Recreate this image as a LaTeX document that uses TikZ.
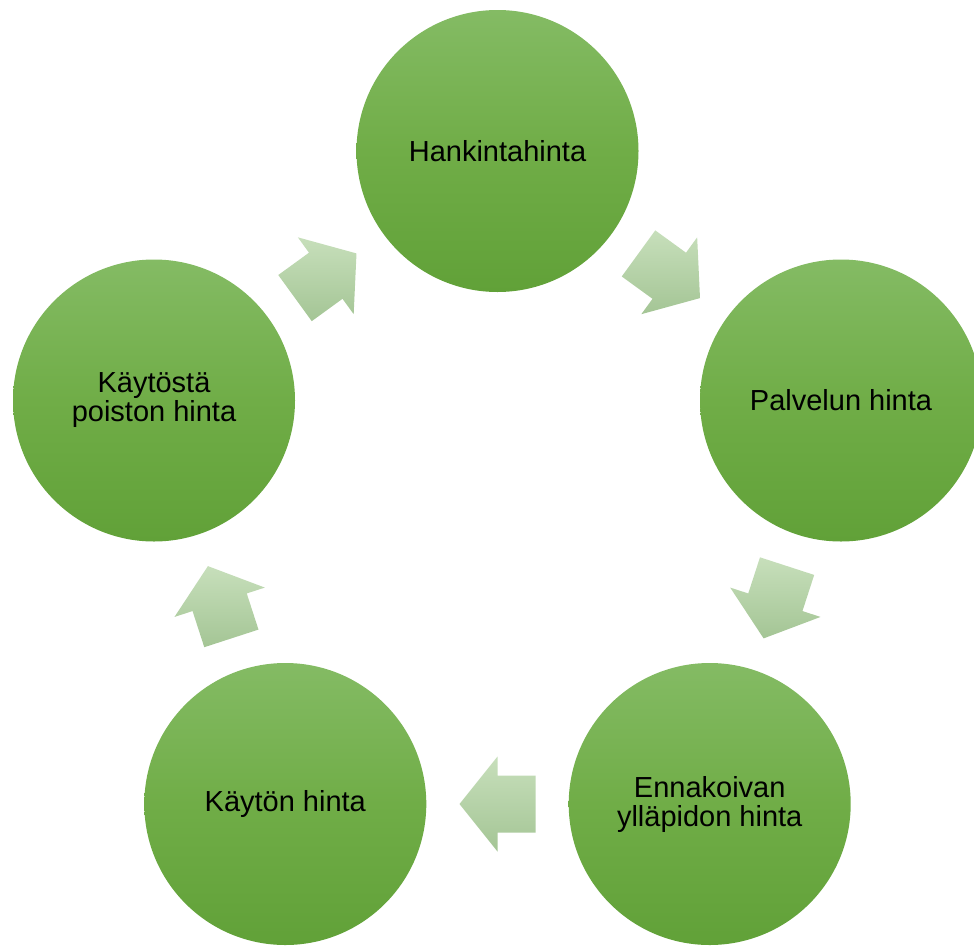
\documentclass[tikz,border=0pt]{standalone}
\usepackage{fontspec}
\setmainfont{Liberation Sans}
\usetikzlibrary{calc}
\definecolor{ctop}{RGB}{132,187,100}
\definecolor{cmid}{RGB}{112,173,71}
\definecolor{cbot}{RGB}{97,161,56}
\definecolor{atop}{RGB}{199,223,187}
\definecolor{abot}{RGB}{164,197,149}
\tikzset{
  stage/.style={circle, minimum size=282pt, inner sep=0pt, draw=none,
    top color=ctop, bottom color=cbot, middle color=cmid,
    align=center, text=black, font=\fontsize{29}{29}\selectfont},
  cyc/.style={draw=none, top color=atop, bottom color=abot}
}
\newcommand\cycarrow[3]{%
  \path[cyc, shift={($(#1)!0.5!(#2)$)}, rotate=#3]
    (-38,28.5) -- (0,28.5) -- (0,47.5) -- (38,0) -- (0,-47.5) -- (0,-28.5) -- (-38,-28.5) -- cycle;}
\begin{document}
\begin{tikzpicture}[x=1pt, y=-1pt]
  \useasboundingbox (0,0) rectangle (974,945);
  \node[stage] (s1) at (497.5,151) {Hankintahinta};
  \node[stage] (s2) at (841,400.5) {Palvelun hinta};
  \node[stage] (s3) at (709.7,804) {Ennakoivan\\ylläpidon hinta};
  \node[stage] (s4) at (285.3,804) {Käytön hinta};
  \node[stage] (s5) at (154,400.5) {Käytöstä\\poiston hinta};
  \cycarrow{s1}{s2}{-36}
  \cycarrow{s2}{s3}{-108}
  \cycarrow{s3}{s4}{180}
  \cycarrow{s4}{s5}{108}
  \cycarrow{s5}{s1}{36}
\end{tikzpicture}
\end{document}
